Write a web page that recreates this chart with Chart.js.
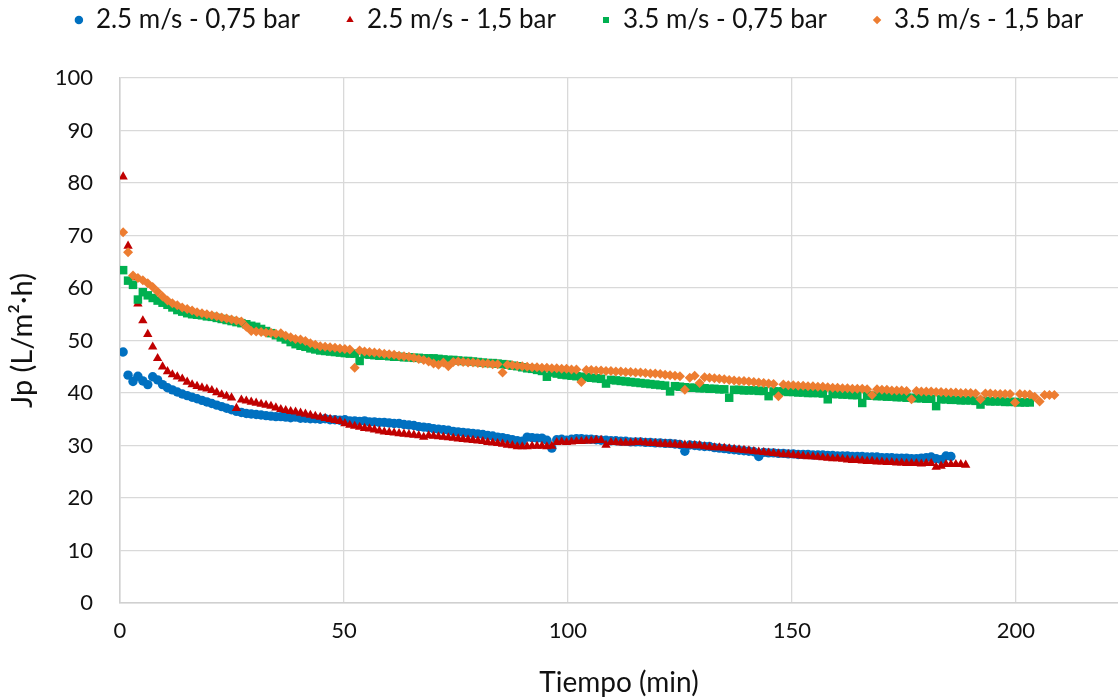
<!DOCTYPE html>
<html lang="es">
<head>
<meta charset="utf-8">
<title>Jp vs tiempo</title>
<script src="https://cdn.jsdelivr.net/npm/chart.js@4.4.1/dist/chart.umd.min.js"></script>
<style>
    html, body { margin: 0; padding: 0; background: #fff; }
    #contenedor { width: 1118px; height: 700px; position: relative; }
</style>
</head>
<body>
<div id="contenedor"><canvas id="grafica"></canvas></div>
<script>
//--------------------------------//
//--|datos_de_flujo_de_permeado|--//
//--------------------------------//
// una lectura cada 1,1 min empezando en 0,7 min
const inicio = 0.7;
const paso = 1.1;

const series = [
    "2.5 m/s - 0,75 bar",
    "2.5 m/s - 1,5 bar",
    "3.5 m/s - 0,75 bar",
    "3.5 m/s - 1,5 bar"
];

const jp_25_075 = [
    47.8, 43.4, 42.2, 43.2, 42.3, 41.6, 43.1, 42.5, 41.6, 41.0,
    40.6, 40.2, 39.8, 39.5, 39.2, 38.9, 38.6, 38.3, 38.0, 37.7,
    37.4, 37.1, 36.8, 36.5, 36.3, 36.1, 36.0, 35.9, 35.8, 35.7,
    35.6, 35.5, 35.5, 35.4, 35.3, 35.4, 35.2, 35.2, 35.1, 35.1,
    35.0, 35.1, 34.9, 34.9, 34.8, 34.9, 34.7, 34.7, 34.6, 34.7,
    34.5, 34.5, 34.4, 34.4, 34.3, 34.2, 34.2, 34.0, 33.9, 33.8,
    33.6, 33.5, 33.4, 33.2, 33.1, 33.0, 32.9, 32.7, 32.6, 32.5,
    32.4, 32.3, 32.2, 32.1, 31.9, 31.8, 31.6, 31.5, 31.3, 31.1,
    30.9, 30.8, 31.6, 31.5, 31.4, 31.4, 31.0, 29.5, 31.1, 31.2,
    31.0, 31.2, 31.3, 31.3, 31.2, 31.2, 31.1, 31.0, 31.0, 30.9,
    30.9, 30.8, 30.8, 30.7, 30.7, 30.7, 30.6, 30.6, 30.5, 30.5,
    30.4, 30.4, 30.3, 30.2, 28.9, 30.1, 30.0, 29.9, 29.8, 29.8,
    29.6, 29.5, 29.4, 29.3, 29.2, 29.1, 29.0, 28.9, 28.8, 27.9,
    28.7, 28.6, 28.6, 28.5, 28.5, 28.4, 28.4, 28.3, 28.3, 28.3,
    28.2, 28.2, 28.2, 28.1, 28.1, 28.0, 28.0, 28.0, 27.9, 27.9,
    27.9, 27.8, 27.8, 27.8, 27.7, 27.7, 27.7, 27.6, 27.6, 27.6,
    27.5, 27.5, 27.6, 27.7, 27.8, 27.5, 27.3, 28.0, 27.9
];

const jp_25_15 = [
    81.2, 68.0, 62.0, 57.0, 53.8, 51.2, 48.8, 46.6, 45.0, 44.1,
    43.5, 43.1, 42.7, 42.1, 41.6, 41.3, 41.0, 40.8, 40.5, 40.1,
    39.7, 39.4, 39.1, 37.1, 38.7, 38.5, 38.3, 38.1, 37.9, 37.7,
    37.5, 37.2, 36.9, 36.7, 36.5, 36.4, 36.2, 36.0, 35.8, 35.6,
    35.4, 35.2, 35.0, 34.8, 34.6, 34.2, 33.9, 33.7, 33.5, 33.3,
    33.2, 33.0, 32.8, 32.6, 32.5, 32.4, 32.3, 32.2, 32.1, 32.0,
    31.9, 31.6, 31.9, 31.8, 31.7, 31.6, 31.5, 31.4, 31.3, 31.2,
    31.1, 31.0, 30.9, 30.8, 30.6, 30.5, 30.4, 30.3, 30.1, 30.0,
    29.8, 29.8, 29.8, 29.9, 29.9, 29.9, 29.8, 29.9, 30.6, 30.7,
    30.6, 30.7, 30.8, 30.8, 30.9, 30.9, 31.0, 31.0, 30.1, 30.6,
    30.6, 30.5, 30.5, 30.5, 30.6, 30.6, 30.5, 30.4, 30.4, 30.3,
    30.3, 30.2, 30.2, 30.1, 30.1, 30.0, 30.0, 30.0, 29.8, 29.7,
    29.6, 29.6, 29.5, 29.4, 29.3, 29.2, 29.1, 29.0, 28.9, 28.8,
    28.7, 28.6, 28.5, 28.4, 28.3, 28.3, 28.2, 28.1, 28.0, 27.9,
    27.9, 27.8, 27.7, 27.6, 27.5, 27.5, 27.4, 27.3, 27.2, 27.2,
    27.1, 27.0, 27.0, 26.9, 26.9, 26.8, 26.8, 26.7, 26.7, 26.6,
    26.6, 26.6, 26.5, 26.6, 26.6, 25.9, 26.1, 26.4, 26.4, 26.4,
    26.4, 26.3
];

const jp_35_075 = [
    63.4, 61.4, 60.6, 57.8, 59.2, 58.6, 58.1, 57.6, 57.2, 56.8,
    56.3, 55.8, 55.5, 55.2, 55.0, 54.9, 54.8, 54.6, 54.5, 54.3,
    54.1, 53.9, 53.7, 53.5, 53.3, 53.1, 52.8, 52.6, 52.2, 51.8,
    51.4, 51.0, 50.6, 50.2, 49.7, 49.3, 49.0, 48.8, 48.5, 48.3,
    48.1, 48.0, 47.9, 47.8, 47.7, 47.6, 47.5, 47.5, 46.1, 47.4,
    47.3, 47.2, 47.1, 47.1, 47.0, 46.9, 46.9, 46.8, 46.8, 46.7,
    46.7, 46.6, 46.6, 46.6, 46.5, 46.4, 46.3, 46.3, 46.2, 46.1,
    46.1, 46.0, 45.9, 45.8, 45.7, 45.7, 45.6, 45.5, 45.4, 45.2,
    45.1, 44.9, 44.7, 44.6, 44.4, 44.2, 43.1, 43.9, 43.7, 43.5,
    43.4, 43.3, 43.2, 43.1, 43.0, 42.9, 42.8, 42.7, 41.8, 42.5,
    42.4, 42.3, 42.2, 42.1, 42.0, 41.9, 41.8, 41.7, 41.6, 41.5,
    41.4, 40.3, 41.3, 41.2, 41.1, 41.0, 41.0, 40.9, 40.9, 40.8,
    40.8, 40.7, 40.7, 39.1, 40.6, 40.6, 40.5, 40.5, 40.5, 40.4,
    40.4, 39.4, 40.3, 40.3, 40.3, 40.2, 40.2, 40.1, 40.1, 40.0,
    40.0, 40.0, 39.9, 38.8, 39.8, 39.8, 39.7, 39.7, 39.6, 39.6,
    38.1, 39.5, 39.5, 39.4, 39.4, 39.3, 39.3, 39.2, 39.2, 39.1,
    39.1, 39.0, 39.0, 38.9, 38.9, 37.5, 38.8, 38.8, 38.7, 38.7,
    38.6, 38.6, 38.6, 38.5, 37.8, 38.5, 38.4, 38.4, 38.4, 38.3,
    38.3, 38.3, 38.2, 38.2, 38.2
];

const jp_35_15 = [
    70.6, 66.8, 62.4, 61.9, 61.5, 60.9, 60.2, 59.3, 58.4, 57.6,
    57.1, 56.7, 56.3, 56.0, 55.7, 55.4, 55.2, 55.0, 54.8, 54.6,
    54.4, 54.2, 54.0, 53.8, 53.6, 52.6, 51.8, 51.7, 51.6, 51.5,
    51.5, 51.3, 51.4, 50.9, 50.6, 50.3, 50.2, 49.9, 49.5, 49.2,
    48.9, 48.8, 48.7, 48.6, 48.5, 48.4, 48.3, 44.8, 48.1, 47.9,
    47.8, 47.7, 47.6, 47.5, 47.4, 47.3, 47.1, 47.0, 46.9, 46.7,
    46.5, 46.3, 46.0, 45.6, 45.4, 45.8, 45.1, 45.9, 46.0, 45.9,
    45.8, 45.8, 45.7, 45.6, 45.6, 45.5, 45.5, 43.9, 45.4, 45.3,
    45.2, 45.1, 45.0, 44.9, 44.9, 44.8, 44.8, 44.7, 44.7, 44.6,
    44.6, 44.5, 44.5, 42.1, 44.4, 44.4, 44.3, 44.3, 44.2, 44.2,
    44.1, 44.1, 44.0, 44.0, 43.9, 43.9, 43.8, 43.7, 43.7, 43.6,
    43.5, 43.4, 43.3, 43.2, 40.6, 42.9, 43.3, 41.9, 43.0, 42.9,
    42.8, 42.7, 42.6, 42.5, 42.4, 42.3, 42.3, 42.2, 42.1, 42.0,
    41.9, 41.8, 41.7, 39.4, 41.6, 41.5, 41.5, 41.4, 41.4, 41.3,
    41.3, 41.2, 41.2, 41.1, 41.0, 41.0, 40.9, 40.9, 40.8, 40.8,
    40.8, 40.7, 39.6, 40.7, 40.6, 40.6, 40.5, 40.5, 40.5, 40.4,
    38.8, 40.4, 40.3, 40.3, 40.3, 40.2, 40.2, 40.1, 40.1, 40.1,
    40.0, 40.0, 40.0, 39.9, 38.8, 39.9, 39.9, 39.8, 39.8, 39.8,
    39.8, 38.2, 39.8, 39.7, 39.7, 39.3, 38.4, 39.6, 39.6, 39.6
];

const ticksX = [0, 50, 100, 150, 200];
const ticksY = [0, 10, 20, 30, 40, 50, 60, 70, 80, 90, 100];

//--------------------------//
//--|funcionalidad_grafica|--//
//--------------------------//
function aPuntos(valores) {
    return valores.map((v, i) => ({ x: +(inicio + i * paso).toFixed(1), y: v }));
}

const FUENTE_EJES = 22;
const FUENTE_LEYENDA = 26;
const PAD_LEYENDA = 46;

// coloca la leyenda arriba sin quitarle espacio al área del gráfico
const ajustarLeyenda = {
    id: "ajustarLeyenda",
    afterLayout(chart) {
        const ley = chart.legend;
        const arriba = 20 - PAD_LEYENDA - FUENTE_LEYENDA / 2;
        const dy = arriba - ley.top;
        ley.top += dy;
        ley.bottom += dy;
        ley.left += 20;
        ley.right += 20;
    }
};

document.addEventListener("DOMContentLoaded", () => {
    const ctx = document.getElementById("grafica").getContext("2d");
    Chart.defaults.font.family = "Lato, 'Open Sans', sans-serif";
    Chart.defaults.font.size = FUENTE_EJES;
    Chart.defaults.color = "#111";

    new Chart(ctx, {
        type: "scatter",
        data: {
            datasets: [
                {
                    label: series[0],
                    data: aPuntos(jp_25_075),
                    backgroundColor: "#0070C0",
                    pointStyle: "circle",
                    pointRadius: 4.7,
                    order: 4
                },
                {
                    label: series[1],
                    data: aPuntos(jp_25_15),
                    backgroundColor: "#C00000",
                    pointStyle: "triangle",
                    pointRadius: 5.4,
                    order: 3
                },
                {
                    label: series[2],
                    data: aPuntos(jp_35_075),
                    backgroundColor: "#00B050",
                    pointStyle: "rect",
                    pointRadius: 6,
                    order: 2
                },
                {
                    label: series[3],
                    data: aPuntos(jp_35_15),
                    backgroundColor: "#ED7D31",
                    pointStyle: "rectRot",
                    pointRadius: 5,
                    order: 1
                }
            ]
        },
        options: {
            responsive: true,
            maintainAspectRatio: false,
            animation: false,
            elements: {
                point: { borderWidth: 0, hoverRadius: 5 }
            },
            layout: {
                autoPadding: false,
                padding: { top: 8, right: 0, bottom: 0, left: 0 }
            },
            plugins: {
                tooltip: { enabled: false },
                legend: {
                    position: "top",
                    maxHeight: 70,
                    labels: {
                        usePointStyle: true,
                        boxWidth: 8,
                        boxHeight: 6,
                        padding: PAD_LEYENDA,
                        color: "#111",
                        font: { size: FUENTE_LEYENDA },
                        sort: (a, b) => a.datasetIndex - b.datasetIndex
                    }
                }
            },
            scales: {
                x: {
                    type: "linear",
                    min: 0,
                    max: 222.8,
                    afterBuildTicks: (escala) => {
                        escala.ticks = ticksX.map(v => ({ value: v }));
                    },
                    afterFit: (escala) => {
                        escala.height = 97;
                        escala.paddingRight = 0;
                    },
                    grid: { color: "#d9d9d9", lineWidth: 1.3, drawTicks: false },
                    border: { color: "#d0d0d0", width: 1.5 },
                    ticks: { padding: 15, color: "#111", maxRotation: 0 },
                    title: {
                        display: true,
                        text: "Tiempo (min)",
                        color: "#111",
                        font: { size: 28 },
                        padding: { top: 0, bottom: 0 }
                    }
                },
                y: {
                    min: 0,
                    max: 100,
                    afterBuildTicks: (escala) => {
                        escala.ticks = ticksY.map(v => ({ value: v }));
                    },
                    afterFit: (escala) => { escala.width = 120; },
                    grid: { color: "#d9d9d9", lineWidth: 1.3, drawTicks: false },
                    border: { color: "#d0d0d0", width: 1.5 },
                    ticks: { padding: 27, color: "#111" },
                    title: {
                        display: true,
                        text: "Jp (L/m²·h)",
                        color: "#111",
                        font: { size: 29 },
                        padding: { top: 5, bottom: 0 }
                    }
                }
            }
        },
        plugins: [ajustarLeyenda]
    });
});
</script>
</body>
</html>
